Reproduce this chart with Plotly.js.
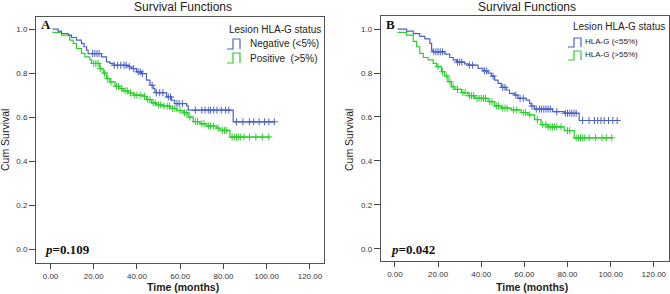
<!DOCTYPE html>
<html><head><meta charset="utf-8">
<script src="https://cdn.plot.ly/plotly-3.0.1.min.js"></script>
<style>html,body{margin:0;padding:0;background:#fff}#chart{width:670px;height:294px}</style>
</head><body><div id="chart"></div>
<script>
// ---------- DATA ----------
// Panel A: step times (months) and survival after each step
const tNegA = [0.9, 3.5, 5.1, 8.2, 9.7, 12.0, 14.3, 15.5, 16.7, 17.4, 23.6, 25.9, 27.5, 29.0, 35.9, 37.5, 39.8, 42.1, 44.4, 46.0, 47.5, 48.3, 53.7, 56.0, 57.5, 63.0, 63.7, 84.5, 103.8];
const sNegA = [1.0, 0.991, 0.98, 0.973, 0.962, 0.95, 0.935, 0.92, 0.905, 0.889, 0.874, 0.851, 0.844, 0.836, 0.829, 0.821, 0.806, 0.798, 0.768, 0.745, 0.73, 0.711, 0.692, 0.677, 0.662, 0.651, 0.632, 0.579, 0.579];
const cNegA = [19.5, 20.5, 21.5, 22.5, 29.5, 31, 32.5, 34, 35, 36.5, 38.5, 40.5, 41.5, 42.5, 47, 49, 50.5, 52, 54.5, 55.5, 58.5, 59.5, 61, 67, 70, 71.5, 73, 74, 75.5, 77, 79, 81, 82.5, 86, 89, 92, 94, 96.5, 99, 101, 103.5];

const tPosA = [0.9, 5.1, 8.9, 10.5, 12.0, 14.3, 15.9, 18.2, 19.0, 22.8, 24.4, 25.9, 27.5, 29.8, 32.1, 33.6, 36.0, 38.3, 42.9, 44.4, 46.8, 49.1, 52.2, 55.3, 58.3, 61.4, 63.7, 66.0, 69.1, 72.2, 76.8, 78.4, 83.0, 101.5];
const sPosA = [0.985, 0.973, 0.95, 0.935, 0.912, 0.89, 0.874, 0.86, 0.844, 0.82, 0.80, 0.775, 0.76, 0.74, 0.73, 0.72, 0.71, 0.70, 0.695, 0.68, 0.665, 0.656, 0.65, 0.64, 0.63, 0.62, 0.60, 0.58, 0.57, 0.56, 0.55, 0.54, 0.51, 0.51];
const cPosA = [20, 21, 22, 23, 25, 26.5, 28, 30.5, 31.5, 33, 34.5, 35.5, 37, 39, 40, 41.5, 43.5, 45, 46, 47.5, 48.5, 50, 51, 52.5, 54, 55, 56.5, 57.5, 60, 62, 63, 64.5, 67, 68, 70, 71, 73, 74, 75.5, 77.5, 79.5, 80.5, 81.5, 84, 85, 86, 87, 88, 89.5, 92, 95, 98, 101];

// Panel B
const tLowB = [1.2, 5.4, 8.5, 11.5, 13.9, 16.2, 17.0, 17.7, 23.1, 25.4, 27.0, 28.5, 32.3, 33.9, 38.5, 40.8, 43.2, 44.7, 46.2, 47.8, 49.3, 51.6, 53.1, 55.4, 57.0, 60.8, 62.4, 63.1, 64.7, 73.1, 78.5, 85.4, 103.0];
const sLowB = [1.0, 0.991, 0.98, 0.967, 0.956, 0.935, 0.905, 0.897, 0.886, 0.871, 0.86, 0.85, 0.842, 0.836, 0.821, 0.81, 0.80, 0.786, 0.768, 0.753, 0.735, 0.723, 0.708, 0.70, 0.685, 0.677, 0.662, 0.65, 0.636, 0.624, 0.617, 0.584, 0.584];
const cLowB = [18, 19, 20, 21, 22, 29, 30, 31, 34.5, 36, 41.5, 42.5, 45.5, 50, 51, 56, 58, 59.5, 63.5, 65.5, 67, 68, 69, 70, 71, 72, 75, 79, 80, 81, 82, 83, 84, 87, 90, 92.5, 94, 95.5, 97, 99, 101, 103];

const tHighB = [1.2, 5.4, 8.5, 10.0, 11.5, 13.1, 15.4, 17.7, 19.3, 21.6, 23.1, 24.6, 26.2, 27.7, 30.8, 33.9, 37.0, 43.2, 46.2, 49.3, 53.9, 58.5, 61.6, 64.7, 67.7, 70.8, 78.5, 83.1, 100.8];
const sHighB = [0.985, 0.973, 0.944, 0.92, 0.89, 0.871, 0.86, 0.844, 0.829, 0.806, 0.786, 0.761, 0.738, 0.726, 0.711, 0.697, 0.685, 0.670, 0.65, 0.64, 0.632, 0.62, 0.61, 0.588, 0.565, 0.555, 0.538, 0.505, 0.505];
const cHighB = [20, 22, 24, 25.5, 27, 29, 31.5, 32.5, 34.5, 35.5, 36.5, 38, 39, 40, 41, 42, 44, 45, 47, 48, 50, 51, 52, 55, 56.5, 59.5, 60.5, 62.5, 66, 68.5, 70, 71, 72, 73, 74, 75, 77, 80, 81, 84, 85, 86, 87, 88, 90, 93, 96, 98, 100.5];

const xTickVals = [0, 20, 40, 60, 80, 100, 120];
const xTickText = ["0.00", "20.00", "40.00", "60.00", "80.00", "100.00", "120.00"];
const yTickVals = [0, 0.2, 0.4, 0.6, 0.8, 1.0];
const yTickText = ["0.0", "0.2", "0.4", "0.6", "0.8", "1.0"];

const labelsA = ["Negative (<5%)", "Positive  (>5%)"];
const labelsB = ["HLA-G (<55%)", "HLA-G (>55%)"];
const legendTitle = "Lesion HLA-G status";
const pA = "0.109", pB = "0.042";

// ---------- STYLE ----------
const BLUE = "#4a62c8", GREEN = "#2ecc2e";
const W = 670, H = 294;
const FONT = "Liberation Sans, Arial, sans-serif";
const SERIF = "Liberation Serif, Times New Roman, serif";

function stepAt(ts, ss, c) {
  let v = ss[0];
  for (let i = 0; i < ts.length; i++) { if (ts[i] <= c) v = ss[i]; }
  return v;
}
function curve(ts, ss, color, xa, ya) {
  return {x: ts, y: ss, type: "scatter", mode: "lines", line: {shape: "hv", color: color, width: 1.2},
          xaxis: xa, yaxis: ya, showlegend: false, hoverinfo: "skip"};
}
function censors(cs, ts, ss, color, xa, ya) {
  return {x: cs, y: cs.map(c => stepAt(ts, ss, c)), type: "scatter", mode: "markers",
          marker: {symbol: "cross-thin", size: 5, line: {width: 1, color: color}, color: color},
          xaxis: xa, yaxis: ya, showlegend: false, hoverinfo: "skip"};
}

const data = [
  curve(tPosA, sPosA, GREEN, "x", "y"), censors(cPosA, tPosA, sPosA, GREEN, "x", "y"),
  curve(tNegA, sNegA, BLUE, "x", "y"), censors(cNegA, tNegA, sNegA, BLUE, "x", "y"),
  curve(tHighB, sHighB, GREEN, "x2", "y2"), censors(cHighB, tHighB, sHighB, GREEN, "x2", "y2"),
  curve(tLowB, sLowB, BLUE, "x2", "y2"), censors(cLowB, tLowB, sLowB, BLUE, "x2", "y2")
];

function xax(domain, range, anchor) {
  return {domain: domain, range: range, anchor: anchor, tickvals: xTickVals, ticktext: xTickText,
          ticks: "outside", ticklen: 5, tickcolor: "#444", tickwidth: 1, showline: true, linecolor: "#555",
          linewidth: 1, mirror: true, showgrid: false, zeroline: false, automargin: false,
          tickfont: {family: FONT, size: 8, color: "#333"}};
}
function yax(domain, range, anchor) {
  return {domain: domain, range: range, anchor: anchor, tickvals: yTickVals, ticktext: yTickText,
          ticks: "outside", ticklen: 6, tickcolor: "#444", tickwidth: 1, showline: true, linecolor: "#555",
          linewidth: 1, mirror: true, showgrid: false, zeroline: false, automargin: false,
          tickfont: {family: FONT, size: 8, color: "#333"}};
}
const px = v => v / W, py = v => 1 - v / H;
function ann(text, x, y, opts) {
  return Object.assign({text: text, xref: "paper", yref: "paper", x: px(x), y: py(y), showarrow: false,
                        xanchor: "center", yanchor: "middle", font: {family: FONT, size: 10, color: "#222"}}, opts || {});
}
function stepIcon(x0, yb, yt, color) {
  const a = px(x0), b = px(x0 + 6), c = px(x0 + 13), lo = py(yb), hi = py(yt);
  return {type: "path", xref: "paper", yref: "paper",
          path: `M ${a} ${lo} L ${b} ${lo} L ${b} ${hi} L ${c} ${hi} L ${c} ${lo}`,
          line: {color: color, width: 1.2}};
}

const annotations = [
  ann("Survival Functions", 183, 7, {font: {family: FONT, size: 12, color: "#222"}}),
  ann("Survival Functions", 527, 7, {font: {family: FONT, size: 12, color: "#222"}}),
  ann("Cum Survival", 5, 140, {textangle: -90, font: {family: FONT, size: 10.5, color: "#222"}}),
  ann("Cum Survival", 349, 140, {textangle: -90, font: {family: FONT, size: 10.5, color: "#222"}}),
  ann("<b>Time (months)</b>", 183, 287, {font: {family: FONT, size: 10.5, color: "#222"}}),
  ann("<b>Time (months)</b>", 532, 287, {font: {family: FONT, size: 10.5, color: "#222"}}),
  ann("<b>A</b>", 39, 25, {xanchor: "left", font: {family: SERIF, size: 13, color: "#111"}}),
  ann("<b>B</b>", 384, 25, {xanchor: "left", font: {family: SERIF, size: 13, color: "#111"}}),
  ann("<b><i>p</i>=" + pA + "</b>", 43, 249, {xanchor: "left", font: {family: SERIF, size: 13, color: "#111"}}),
  ann("<b><i>p</i>=" + pB + "</b>", 389, 250, {xanchor: "left", font: {family: SERIF, size: 13, color: "#111"}}),
  ann(legendTitle, 227, 29, {xanchor: "left", font: {family: FONT, size: 10, color: "#222"}}),
  ann(labelsA[0], 248, 43, {xanchor: "left", font: {family: FONT, size: 10, color: "#222"}}),
  ann(labelsA[1], 248, 58, {xanchor: "left", font: {family: FONT, size: 10, color: "#222"}}),
  ann(legendTitle, 571, 27, {xanchor: "left", font: {family: FONT, size: 10, color: "#222"}}),
  ann(labelsB[0], 583, 42, {xanchor: "left", font: {family: FONT, size: 8, color: "#222"}}),
  ann(labelsB[1], 583, 55, {xanchor: "left", font: {family: FONT, size: 8, color: "#222"}})
];
const shapes = [
  stepIcon(227, 49, 39, BLUE), stepIcon(227, 63, 53, GREEN),
  stepIcon(568, 47, 38, BLUE), stepIcon(568, 60, 51, GREEN)
];

const layout = {
  width: W, height: H, margin: {l: 0, r: 0, t: 0, b: 0},
  paper_bgcolor: "#fff", plot_bgcolor: "#fff", showlegend: false,
  xaxis: xax([36 / W, 324 / W], [-6.7, 126.5], "y"),
  yaxis: yax([1 - 263 / H, 1 - 17 / H], [-0.062, 1.055], "x"),
  xaxis2: xax([380.7 / W, 668.5 / W], [-6.6, 126.8], "y2"),
  yaxis2: yax([1 - 261 / H, 1 - 16 / H], [-0.056, 1.06], "x2"),
  annotations: annotations, shapes: shapes
};
Plotly.newPlot("chart", data, layout, {staticPlot: true, displayModeBar: false});
</script></body></html>
